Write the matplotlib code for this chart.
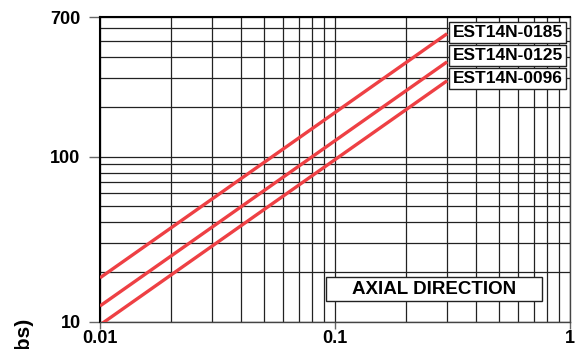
import numpy as np
import matplotlib.pyplot as plt
from matplotlib.patches import Rectangle
from matplotlib.ticker import FixedLocator

plt.rcParams['font.family'] = ['Liberation Sans', 'DejaVu Sans']

# data (deflection vs load, log-log)
deflection = [0.01, 0.3]
load_0185 = [18.5, 555]
load_0125 = [12.5, 375]
load_0096 = [9.6, 288]
series_names = ['EST14N-0185', 'EST14N-0125', 'EST14N-0096']

x_ticks = [0.01, 0.1, 1]
x_tick_labels = ['0.01', '0.1', '1']
y_ticks = [10, 100, 700]
y_tick_labels = ['10', '100', '700']

W, H = 576, 349
fig = plt.figure(figsize=(W/100, H/100), dpi=100)
ax = fig.add_axes([100/W, 1-322/H, 470/W, 305/H])

red = '#ee4044'
for vals in [load_0185, load_0125, load_0096]:
    ax.plot(deflection, vals, color=red, lw=2.4, solid_capstyle='butt', zorder=3)

ax.set_xscale('log')
ax.set_yscale('log')
ax.set_xlim(0.01, 1)
ax.set_ylim(10, 700)

# grid at every decade step
xgrid = [m * 10.0**e for e in (-2, -1) for m in range(1, 10)] + [1]
ygrid = [m * 10.0**e for e in (1, 2) for m in range(1, 10)]
ygrid = [v for v in ygrid if v <= 700]
for gx in xgrid:
    ax.axvline(gx, color='#222222', lw=0.9, zorder=1)
for gy in ygrid:
    ax.axhline(gy, color='#222222', lw=0.9, zorder=1)

ax.xaxis.set_major_locator(FixedLocator(x_ticks))
ax.yaxis.set_major_locator(FixedLocator(y_ticks))
ax.xaxis.set_minor_locator(FixedLocator([]))
ax.yaxis.set_minor_locator(FixedLocator([]))
ax.set_xticklabels(x_tick_labels, fontsize=13, fontweight='bold')
ax.set_yticklabels(y_tick_labels, fontsize=13, fontweight='bold')
ax.tick_params(axis='x', length=5, width=1, color='#666666', pad=1)
ax.tick_params(axis='y', length=8, width=1, color='#666666', pad=6)

for s in ['top', 'left']:
    ax.spines[s].set_linewidth(1.5)
    ax.spines[s].set_color('black')
for s in ['bottom', 'right']:
    ax.spines[s].set_linewidth(1.0)
    ax.spines[s].set_color('#444444')


def label_box(x0, y0, x1, y1, text, size):
    # box given in pixels from top-left
    fig.add_artist(Rectangle((x0/W, 1-y1/H), (x1-x0)/W, (y1-y0)/H,
                             transform=fig.transFigure, fc='white',
                             ec='#222222', lw=1, zorder=5))
    fig.text((x0+x1)/2/W, 1-(y0+y1)/2/H, text, ha='center', va='center',
             fontsize=size, fontweight='bold', zorder=6)


# series label boxes
box_rows = [(22, 43), (45, 66), (68, 89)]
for name, (t, b) in zip(series_names, box_rows):
    label_box(449, t, 566, b, name, 12.5)

label_box(326, 277, 542, 301, 'AXIAL DIRECTION', 13.5)

# y label runs off the bottom of the image
fig.text(25/W, 1-319/H, 'LOAD (lbs)', rotation=90, ha='center', va='top',
         fontsize=15, fontweight='bold')

fig.savefig('out.png', dpi=100)
